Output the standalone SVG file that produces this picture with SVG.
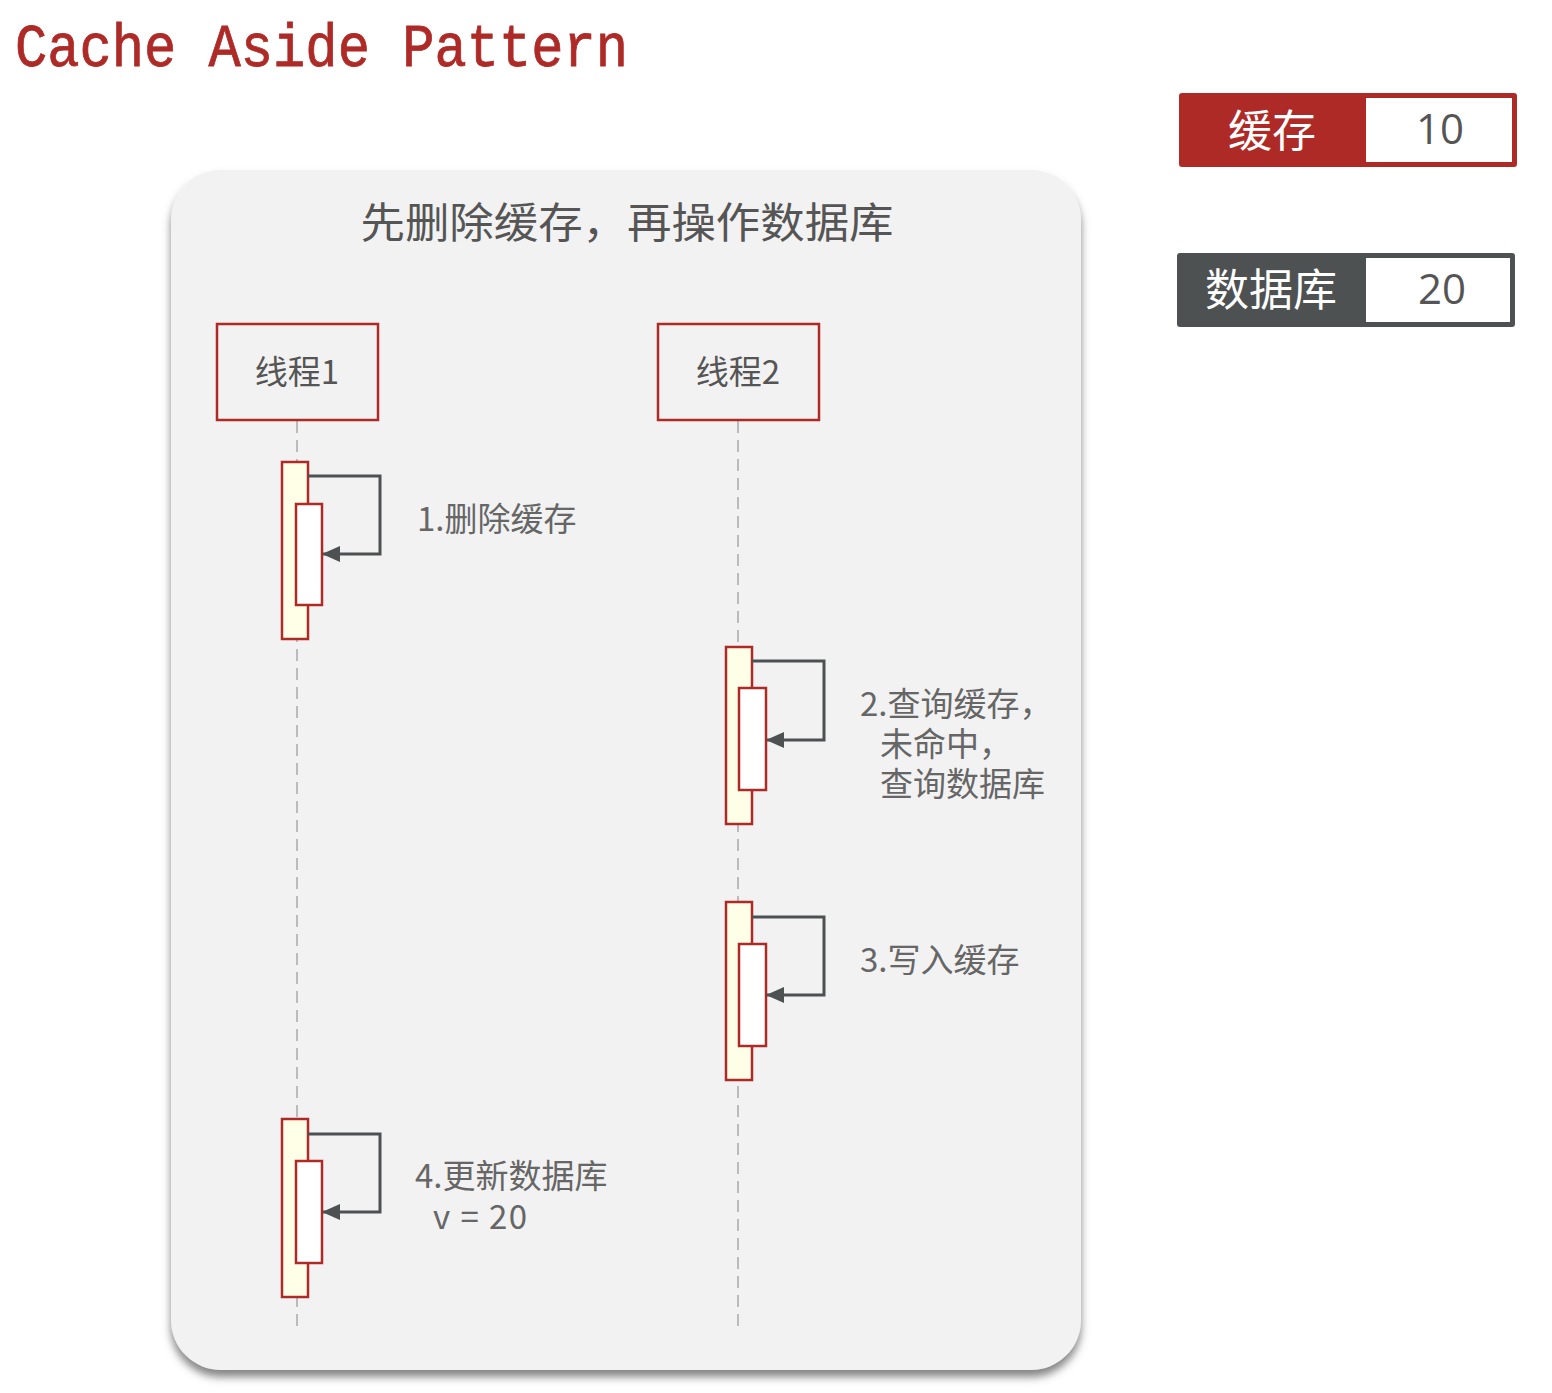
<svg xmlns="http://www.w3.org/2000/svg" width="1552" height="1393" viewBox="0 0 1552 1393">
<defs>
<filter id="sh" x="-5%" y="-5%" width="110%" height="110%">
<feDropShadow dx="0" dy="7" stdDeviation="4" flood-color="#666" flood-opacity="0.8"/>
</filter>
<marker id="arr" markerWidth="18" markerHeight="16" refX="17" refY="8" orient="auto" markerUnits="userSpaceOnUse" viewBox="0 0 18 16">
<path d="M0,0 L18,8 L0,16 z" fill="#4D5152"/>
</marker>
<style>
.cjk{font-family:"Noto Sans CJK SC","Noto Sans",sans-serif;}
.lbl{font-size:33px;fill:#666;}
.head{fill:none;stroke:#AE2A27;stroke-width:2.5;}
.act{fill:#FFFFE8;stroke:#AE2A27;stroke-width:2.5;}
.inn{fill:#FFFFFF;stroke:#AE2A27;stroke-width:2.5;}
.life{stroke:#BBBBBB;stroke-width:2;stroke-dasharray:12,7;fill:none;}
.msg{fill:none;stroke:#4D5152;stroke-width:3;marker-end:url(#arr);}
</style>
</defs>
<rect width="1552" height="1393" fill="#FFFFFF"/>
<text x="15" y="66" font-family="'Liberation Mono',monospace" font-size="62" fill="#AE2A27" stroke="#AE2A27" stroke-width="0.8" textLength="613" lengthAdjust="spacingAndGlyphs">Cache Aside Pattern</text>

<g id="legend-cache">
<rect x="1179" y="93" width="338" height="74" rx="3" fill="#AE2A27"/>
<rect x="1366" y="98" width="146" height="64" fill="#FFFFFF"/>
<text x="1272" y="147" class="cjk" font-size="44" fill="#FFFFFF" text-anchor="middle">缓存</text>
<text x="1440" y="144" font-family="'Open Sans','Noto Sans',sans-serif" font-size="42" fill="#555" text-anchor="middle">10</text>
</g>
<g id="legend-db">
<rect x="1177" y="253" width="338" height="74" rx="3" fill="#4D5152"/>
<rect x="1366" y="258" width="144" height="64" fill="#FFFFFF"/>
<text x="1271" y="306" class="cjk" font-size="44" fill="#FFFFFF" text-anchor="middle">数据库</text>
<text x="1442" y="304" font-family="'Open Sans','Noto Sans',sans-serif" font-size="42" fill="#555" text-anchor="middle">20</text>
</g>

<g id="panel">
<rect x="171" y="170" width="910" height="1200" rx="50" fill="#F2F2F2" filter="url(#sh)"/>
<text x="627" y="238" class="cjk" font-size="42" fill="#555" text-anchor="middle" textLength="533" lengthAdjust="spacingAndGlyphs">先删除缓存，再操作数据库</text>
</g>

<g id="lifelines">
<line class="life" x1="297" y1="421" x2="297" y2="1330"/>
<line class="life" x1="738" y1="421" x2="738" y2="1330"/>
</g>

<g id="thread1">
<rect class="head" x="217" y="324" width="161" height="96"/>
<text x="297" y="384" class="cjk" font-size="33" fill="#555" text-anchor="middle">线程1</text>
</g>
<g id="thread2">
<rect class="head" x="658" y="324" width="161" height="96"/>
<text x="738" y="384" class="cjk" font-size="33" fill="#555" text-anchor="middle">线程2</text>
</g>

<g id="act1">
<rect class="act" x="282" y="462" width="26" height="177"/>
<rect class="inn" x="296" y="504" width="26" height="101"/>
</g>
<g id="act2">
<rect class="act" x="726" y="647" width="26" height="177"/>
<rect class="inn" x="739" y="688" width="27" height="102"/>
</g>
<g id="act3">
<rect class="act" x="726" y="902" width="26" height="178"/>
<rect class="inn" x="739" y="944" width="27" height="102"/>
</g>
<g id="act4">
<rect class="act" x="282" y="1119" width="26" height="178"/>
<rect class="inn" x="296" y="1161" width="26" height="102"/>
</g>

<g id="connectors">
<path class="msg" d="M308,476 H380 V554 H323"/>
<path class="msg" d="M752,661 H824 V740 H767"/>
<path class="msg" d="M752,917 H824 V995 H767"/>
<path class="msg" d="M308,1134 H380 V1212 H323"/>
</g>

<g id="labels">
<text class="cjk lbl" x="417" y="531">1.删除缓存</text>
<text class="cjk lbl" x="860" y="716">2.查询缓存，</text>
<text class="cjk lbl" x="880" y="756">未命中，</text>
<text class="cjk lbl" x="880" y="796">查询数据库</text>
<text class="cjk lbl" x="860" y="972">3.写入缓存</text>
<text class="cjk lbl" x="415" y="1188">4.更新数据库</text>
<text class="cjk lbl" x="433" y="1229" xml:space="preserve" textLength="94" lengthAdjust="spacing">v = 20</text>
</g>
</svg>
